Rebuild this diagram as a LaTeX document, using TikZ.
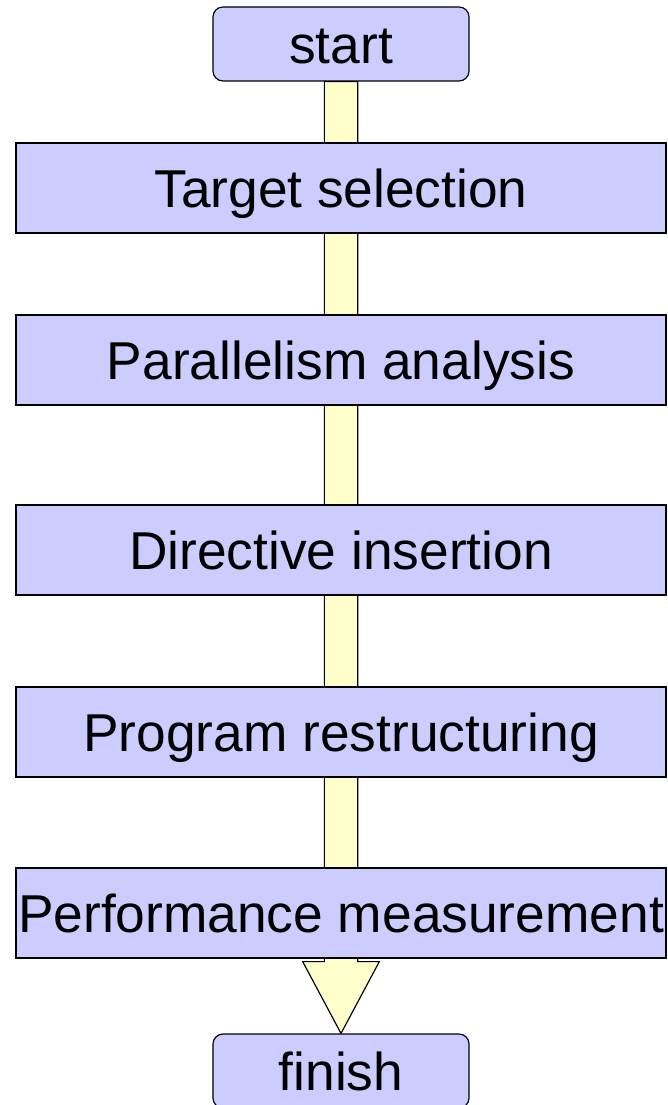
\documentclass[tikz,border=0pt]{standalone}
\usepackage{fontspec}
\setmainfont{Liberation Sans}
\usetikzlibrary{backgrounds}
\definecolor{boxblue}{HTML}{CCCCFF}
\definecolor{shaftyellow}{HTML}{FFFFCC}
\tikzset{
  stepbox/.style={draw=black, line width=1pt, fill=boxblue, minimum width=19.5cm, minimum height=2.7cm, inner sep=0pt,
    font=\fontsize{45.5}{54}\selectfont, text height=32.6pt, text depth=0pt},
  endbox/.style={stepbox, rounded corners=0.3cm, minimum width=7.68cm, minimum height=2.22cm},
  flowarrow/.style={draw=black, line width=1pt, fill=shaftyellow, line join=miter}
}
\begin{document}
\begin{tikzpicture}[x=0.03cm, y=-0.03cm]
    \useasboundingbox (0,0) rectangle (667,1105);

    % Start and finish terminals
    \node[endbox] (start) at (341,44) {start};
    \node[endbox] (finish) at (341,1071) {finish};

    % Steps of the process
    \node[stepbox] (target) at (341,188) {Target selection};
    \node[stepbox] (parallel) at (341,360) {Parallelism analysis};
    \node[stepbox] (directive) at (341,550) {Directive insertion};
    \node[stepbox] (restructure) at (341,732) {Program restructuring};
    \node[stepbox] (measure) at (341,913) {Performance measurement};

    % Block arrow behind the boxes, from start down to finish
    \begin{pgfonlayer}{background}
    \path (measure.south) ++(0,3) coordinate (headbase);
    \draw[flowarrow] ([xshift=-0.5cm]start.south) -- ([xshift=-0.5cm]headbase) -- ([xshift=-1.15cm]headbase)
        -- (finish.north) -- ([xshift=1.15cm]headbase) -- ([xshift=0.5cm]headbase) -- ([xshift=0.5cm]start.south) -- cycle;
    \end{pgfonlayer}
  \end{tikzpicture}
\end{document}
